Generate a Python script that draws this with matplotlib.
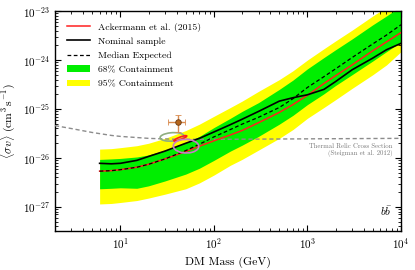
import numpy as np
import matplotlib
matplotlib.use("Agg")
import matplotlib.pyplot as plt
from matplotlib.patches import Ellipse

plt.rcParams["font.family"] = "serif"
plt.rcParams["font.serif"] = ["cmr10", "DejaVu Serif"]
plt.rcParams["mathtext.fontset"] = "cm"
plt.rcParams["axes.formatter.use_mathtext"] = True

# Data (log10 of <sigma v> in cm^3 s^-1) ------------------
mass = [6, 8, 10, 15, 20, 30, 50, 70, 100, 150, 200, 300, 500, 700,
        1000, 1500, 2000, 3000, 5000, 7000, 10000]
median_log = [-26.27, -26.26, -26.24, -26.19, -26.13, -26.02, -25.85, -25.72, -25.57, -25.42, -25.31,
              -25.17, -24.97, -24.79, -24.56, -24.34, -24.18, -23.95, -23.67, -23.49, -23.28]
ackermann_log = [-26.27, -26.26, -26.24, -26.19, -26.13, -26.02, -25.87, -25.76, -25.65, -25.53, -25.44,
                 -25.28, -25.07, -24.91, -24.72, -24.48, -24.32, -24.10, -23.81, -23.63, -23.44]
nominal_log = [-26.11, -26.12, -26.11, -26.05, -25.97, -25.86, -25.70, -25.60, -25.47, -25.32, -25.21,
               -25.05, -24.84, -24.77, -24.71, -24.60, -24.44, -24.20, -23.96, -23.79, -23.66]
c68_hi_log = [-26.03, -26.02, -26.01, -25.98, -25.94, -25.84, -25.69, -25.56, -25.38, -25.19, -25.05,
              -24.87, -24.60, -24.41, -24.18, -23.95, -23.79, -23.57, -23.28, -23.10, -22.90]
c68_lo_log = [-26.63, -26.62, -26.61, -26.62, -26.57, -26.47, -26.33, -26.21, -26.05, -25.86, -25.74,
              -25.56, -25.31, -25.13, -24.91, -24.69, -24.52, -24.30, -24.02, -23.83, -23.63]
c95_hi_log = [-25.82, -25.81, -25.79, -25.75, -25.70, -25.60, -25.44, -25.31, -25.15, -24.97, -24.84,
              -24.64, -24.40, -24.22, -24.00, -23.77, -23.61, -23.39, -23.10, -22.92, -22.72]
c95_lo_log = [-26.94, -26.93, -26.91, -26.87, -26.82, -26.74, -26.63, -26.51, -26.35, -26.15, -26.03,
              -25.84, -25.60, -25.42, -25.19, -24.97, -24.81, -24.58, -24.30, -24.10, -23.83]

relic_mass = [2, 3, 5, 8, 10, 20, 40, 100, 1000, 10000]
relic_log = [-25.34, -25.40, -25.48, -25.54, -25.56, -25.60, -25.62, -25.62, -25.61, -25.60]

# GC excess point (mass, sigma v, errors)
gc_mass = 41.0
gc_sv = 5.4e-26
gc_mass_err = [[8.6], [8.0]]
gc_sv_err = [[2.0e-26], [2.3e-26]]

# Other fit contours: (log10 mass, log10 sv, width, height, angle, colour)
contours = [
    (1.553, -25.57, 0.26, 0.17, 12, "#8fae7f"),
    (1.641, -25.60, 0.17, 0.045, 38, "#ff1a1a"),
    (1.702, -25.76, 0.27, 0.28, 28, "#c77dc7"),
]

xticks = [1e1, 1e2, 1e3, 1e4]
yticks = [1e-27, 1e-26, 1e-25, 1e-24, 1e-23]
# ----------------------------------------------------------

m = np.asarray(mass)
fig = plt.figure(figsize=(4.15, 2.7), dpi=100)
ax = fig.add_axes([0.1325, 0.144, 0.8337, 0.815])

ax.fill_between(m, 10 ** np.asarray(c95_lo_log), 10 ** np.asarray(c95_hi_log),
                color="#ffff00", lw=0, label="95% Containment", zorder=1)
ax.fill_between(m, 10 ** np.asarray(c68_lo_log), 10 ** np.asarray(c68_hi_log),
                color="#00ee00", lw=0, label="68% Containment", zorder=2)

ax.plot(relic_mass, 10 ** np.asarray(relic_log), ls="--", color="#8c8c8c", lw=1.0,
        dashes=(3, 2), zorder=3)
ax.plot(m, 10 ** np.asarray(ackermann_log), color="#ff2020", lw=1.1, label="Ackermann et al. (2015)", zorder=4)
ax.plot(m, 10 ** np.asarray(nominal_log), color="k", lw=1.2, label="Nominal sample", zorder=5)
ax.plot(m, 10 ** np.asarray(median_log), color="k", ls="--", lw=0.9, dashes=(3, 2),
        label="Median Expected", zorder=5)

for cx, cy, w, h, ang, col in contours:
    ax.add_patch(Ellipse((cx, cy), w, h, angle=ang, fill=False, ec=col, lw=1.2,
                         transform=ax.transLimits + ax.transAxes, zorder=6))

ax.errorbar([gc_mass], [gc_sv], xerr=gc_mass_err, yerr=gc_sv_err, fmt="o", ms=4,
            mfc="#b5651d", mec="#6b3a10", mew=0.6, ecolor="#d98b4f", elinewidth=1.0,
            capsize=2, capthick=0.8, zorder=7)

ax.set_xscale("log")
ax.set_yscale("log")
ax.set_xticks(xticks)
ax.set_yticks(yticks)
ax.set_xlim(2, 1e4)
ax.set_ylim(3.2e-28, 1e-23)
ax.set_xlabel("DM Mass (GeV)", fontsize=8.5)
ax.set_ylabel(r"$\langle\sigma v\rangle\ (\mathrm{cm^{3}\,s^{-1}})$", fontsize=8.5)
ax.tick_params(which="both", direction="in", top=True, right=True, labelsize=8)
ax.tick_params(which="major", length=4)
ax.tick_params(which="minor", length=2)
for s in ax.spines.values():
    s.set_linewidth(1.0)

ax.text(0.975, 0.40, "Thermal Relic Cross Section\n(Steigman et al. 2012)", transform=ax.transAxes,
        ha="right", va="top", fontsize=4.8, color="#777777", linespacing=1.3)
ax.text(0.975, 0.06, r"$b\bar{b}$", transform=ax.transAxes, ha="right", va="bottom", fontsize=8)

h, l = ax.get_legend_handles_labels()
order = [l.index(x) for x in ["Ackermann et al. (2015)", "Nominal sample", "Median Expected",
                              "68% Containment", "95% Containment"]]
ax.legend([h[i] for i in order], [l[i] for i in order], loc="upper left", frameon=False,
          fontsize=7, handlelength=2.4, labelspacing=0.55, borderaxespad=0.8)

fig.savefig("out.png", dpi=100)
